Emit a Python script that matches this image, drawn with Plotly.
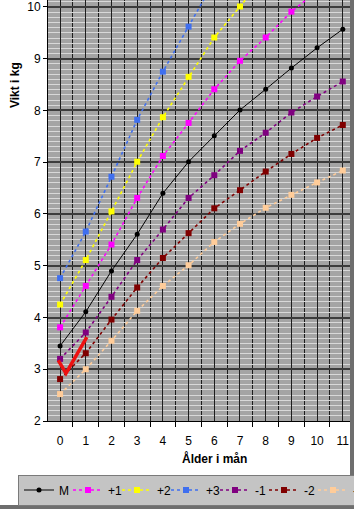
import plotly.graph_objects as go

# ---------------- data ----------------
months = list(range(12))
tick_labels = [str(m) for m in months]
series_names = ["M", "+1", "+2", "+3", "-1", "-2", "-3"]

w_M = [3.45, 4.11, 4.90, 5.61, 6.40, 7.01, 7.51, 8.01, 8.41, 8.82, 9.21, 9.57]
w_p1 = [3.81, 4.61, 5.41, 6.31, 7.12, 7.76, 8.41, 8.96, 9.41, 9.91, 10.30, None]
w_p2 = [4.25, 5.11, 6.05, 7.01, 7.87, 8.65, 9.41, 10.01, 10.60, None, None, None]
w_p3 = [4.76, 5.66, 6.72, 7.82, 8.75, 9.62, 10.50, None, None, None, None, None]
w_m1 = [3.20, 3.71, 4.40, 5.11, 5.70, 6.31, 6.75, 7.22, 7.57, 7.96, 8.27, 8.56]
w_m2 = [2.81, 3.31, 3.96, 4.58, 5.15, 5.63, 6.11, 6.46, 6.82, 7.16, 7.47, 7.72]
w_m3 = [2.52, 3.00, 3.55, 4.13, 4.61, 5.01, 5.46, 5.81, 6.12, 6.37, 6.61, 6.84]

series_values = [w_M, w_p1, w_p2, w_p3, w_m1, w_m2, w_m3]
series_colors = ["#000000", "#ff00ff", "#ffff00", "#3f6fef", "#800080", "#800000", "#ffcc99"]

# red hand-drawn check mark (decoration), in data units
check_x = [-0.07, 0.23, 1.04]
check_y = [3.17, 2.92, 3.62]

# ---------------- figure ----------------
W, H = 354, 514
ML, MR, MT, MB = 48, 4, 0, 93
PW, PH = W - ML - MR, H - MT - MB

fig = go.Figure()
for name, vals, col in zip(series_names, series_values, series_colors):
    is_mean = name == "M"
    fig.add_trace(go.Scatter(
        x=months, y=vals, name=name, mode="lines+markers",
        line=dict(color=col, width=1 if is_mean else 1.6, dash="solid" if is_mean else "dot"),
        marker=dict(color=col, size=5 if is_mean else 6,
                    symbol="circle" if is_mean else "square",
                    line=dict(width=0)),
        connectgaps=False,
    ))

path = "M " + " L ".join(f"{x},{y}" for x, y in zip(check_x, check_y))

def px_x(px):
    return (px - ML) / PW

def px_y(py):
    return (MT + PH - py) / PH

fig.update_layout(
    width=W, height=H,
    margin=dict(l=ML, r=MR, t=MT, b=MB, pad=0, autoexpand=False),
    paper_bgcolor="white",
    plot_bgcolor="#a4a4a4",
    font=dict(family="Liberation Sans, Arial, sans-serif", size=12, color="black"),
    xaxis=dict(
        range=[-0.47, 11.28],
        tickmode="array", tickvals=months, ticktext=tick_labels,
        ticks="", showgrid=True, gridcolor="#1e1e1e", gridwidth=1,
        zeroline=False, showline=True, linecolor="black", linewidth=1,
        ticklabelstandoff=9,
        tickfont=dict(size=12),
        minor=dict(tick0=0.5, dtick=1, showgrid=True, gridcolor="#1e1e1e", gridwidth=1,
                   ticks="outside", ticklen=5, tickcolor="black", tickwidth=1),
    ),
    yaxis=dict(
        range=[2, 10.135],
        tickmode="linear", tick0=2, dtick=1,
        ticks="outside", ticklen=4, tickcolor="black",
        showgrid=True, gridcolor="#3c3c3c", gridwidth=2,
        zeroline=False, showline=True, linecolor="black", linewidth=1,
        tickfont=dict(size=12),
        minor=dict(dtick=0.1, tick0=2, showgrid=True, gridcolor="#d8d8d8", gridwidth=1),
    ),
    legend=dict(
        orientation="h", xref="paper", yref="paper",
        x=px_x(18), y=px_y(490), xanchor="left", yanchor="middle",
        bgcolor="#c4c4c4", bordercolor="#7a7a7a", borderwidth=1,
        entrywidth=4, itemwidth=30, tracegroupgap=0,
        font=dict(size=12, color="black"),
    ),
    showlegend=True,
    shapes=[
        dict(type="path", path=path, xref="x", yref="y",
             line=dict(color="#ee1111", width=3.5)),
        dict(type="rect", xref="paper", yref="paper",
             x0=px_x(350), x1=px_x(354), y0=px_y(506), y1=px_y(0),
             fillcolor="#6e6e6e", line=dict(width=0), layer="above"),
        dict(type="rect", xref="paper", yref="paper",
             x0=px_x(0), x1=px_x(354), y0=px_y(509), y1=px_y(505),
             fillcolor="#6e6e6e", line=dict(width=0), layer="above"),
    ],
    annotations=[
        dict(text="<b>Vikt i kg</b>", xref="paper", yref="paper",
             x=px_x(15), y=px_y(85), textangle=-90, showarrow=False,
             xanchor="center", yanchor="middle", font=dict(size=12)),
        dict(text="<b>Ålder i mån</b>", xref="paper", yref="paper",
             x=px_x(214), y=px_y(458), showarrow=False,
             xanchor="center", yanchor="middle", font=dict(size=12)),
    ],
)

fig.write_html("out.html")
